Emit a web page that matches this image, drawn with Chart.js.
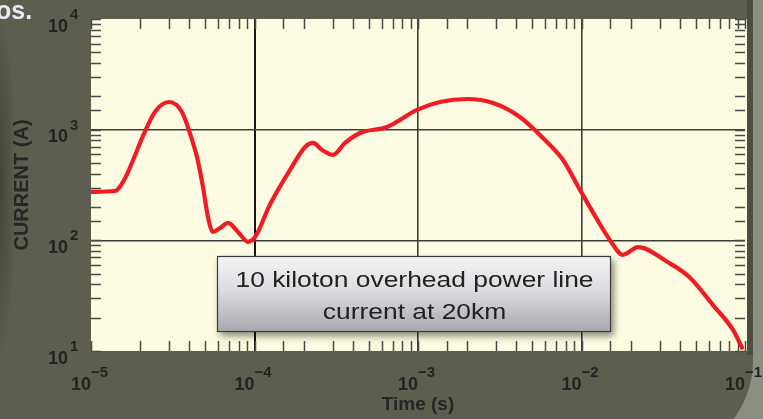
<!DOCTYPE html>
<html>
<head>
<meta charset="utf-8">
<script src="https://cdn.jsdelivr.net/npm/chart.js@4.4.0/dist/chart.umd.min.js"></script>
<style>
html,body{margin:0;padding:0;background:#5d5e50;overflow:hidden;}
#wrap{width:763px;height:419px;position:relative;}
</style>
</head>
<body>
<div id="wrap"><canvas id="c"></canvas></div>
<script>
// ---- data ----
const timeSeconds = [1.0e-5, 1.40e-5, 1.61e-5, 1.81e-5, 2.08e-5, 2.46e-5, 3.00e-5, 3.60e-5, 4.15e-5, 4.45e-5,
  4.84e-5, 5.19e-5, 5.57e-5, 6.15e-5, 6.89e-5, 7.93e-5, 9.12e-5, 1.02e-4, 1.24e-4, 1.65e-4,
  2.04e-4, 2.28e-4, 2.59e-4, 3.02e-4, 3.58e-4, 4.42e-4, 6.46e-4, 9.86e-4, 1.36e-3, 2.0e-3,
  2.88e-3, 4.20e-3, 5.98e-3, 7.71e-3, 9.8e-3, 1.18e-2, 1.49e-2, 1.79e-2, 2.22e-2, 3.34e-2,
  4.61e-2, 6.37e-2, 8.45e-2, 9.6e-2];
const currentAmps = [274, 279, 360, 532, 877, 1445, 1778, 1445, 807, 567,
  304, 163, 119, 129, 144, 119, 97, 110, 209, 433,
  698, 759, 656, 591, 759, 933, 1057, 1507, 1778, 1893,
  1742, 1303, 807, 532, 285, 177, 101, 74, 87, 64,
  46, 26, 15.5, 10.7];
const xDecades = [1e-5, 1e-4, 1e-3, 1e-2, 1e-1];
const xExponents = ['\u22125', '\u22124', '\u22123', '\u22122', '\u22121'];
const yDecades = [10, 100, 1000, 10000];
const yExponents = ['1', '2', '3', '4'];
const xTitle = 'Time (s)';
const yTitle = 'CURRENT (A)';
const noteLines = ['10 kiloton overhead power line', 'current at 20km'];
const cornerText = 'os.';

const FONT = '"Liberation Sans", Arial, Helvetica, sans-serif';
function isDecade(v) {
  if (!(v > 0)) return false;
  const l = Math.log10(v);
  return Math.abs(l - Math.round(l)) < 1e-6;
}

const backgroundPlugin = {
  id: 'bg',
  beforeDraw(chart) {
    const ctx = chart.ctx, a = chart.chartArea;
    const W = chart.width, H = chart.height;
    ctx.save();
    // light outer panel
    ctx.fillStyle = '#8d8e82';
    ctx.fillRect(0, 0, W, H);
    // dark rounded panel
    ctx.fillStyle = '#5d5e50';
    ctx.beginPath();
    const r = 100, R = 753, B = 460;
    ctx.moveTo(-20, -20);
    ctx.lineTo(R, -20);
    ctx.lineTo(R, B - r);
    ctx.arc(R - r, B - r, r, 0, Math.PI / 2);
    ctx.lineTo(-20, B);
    ctx.closePath();
    ctx.fill();
    // darker band right of plot
    ctx.fillStyle = '#4d4e42';
    ctx.fillRect(a.right + 2, 0, 6, 355);
    // soft left shadow
    ctx.save();
    ctx.translate(0, 185);
    ctx.scale(1, 11);
    const g = ctx.createRadialGradient(0, 0, 0, 0, 0, 16);
    g.addColorStop(0, 'rgba(35,35,28,0.45)');
    g.addColorStop(1, 'rgba(35,35,28,0)');
    ctx.fillStyle = g;
    ctx.fillRect(0, -16, 16, 32);
    ctx.restore();
    // plot area
    ctx.fillStyle = '#fdfbe1';
    ctx.fillRect(a.left, a.top, a.right - a.left + 2, a.bottom - a.top);
    // corner text
    ctx.fillStyle = '#e4ebf2';
    ctx.font = 'bold 25px ' + FONT;
    ctx.textAlign = 'left';
    ctx.textBaseline = 'alphabetic';
    ctx.fillText(cornerText, -4, 19);
    ctx.restore();
  }
};

const minorTickPlugin = {
  id: 'minorTicks',
  beforeDatasetsDraw(chart) {
    const ctx = chart.ctx, a = chart.chartArea;
    const xs = chart.scales.x, ys = chart.scales.y;
    const L = 10;
    ctx.save();
    ctx.strokeStyle = '#4a4a48';
    ctx.lineWidth = 1.5;
    ctx.beginPath();
    xs.ticks.forEach(t => {
      const px = Math.round(xs.getPixelForValue(t.value)) + 0.5;
      ctx.moveTo(px, a.top); ctx.lineTo(px, a.top + L);
      ctx.moveTo(px, a.bottom); ctx.lineTo(px, a.bottom - L);
    });
    ys.ticks.forEach(t => {
      const py = Math.round(ys.getPixelForValue(t.value)) + 0.5;
      ctx.moveTo(a.left, py); ctx.lineTo(a.left + L, py);
      ctx.moveTo(a.right, py); ctx.lineTo(a.right - L, py);
    });
    ctx.stroke();
    ctx.restore();
  }
};

const notePlugin = {
  id: 'note',
  afterDatasetsDraw(chart) {
    const ctx = chart.ctx;
    const x = 217, y = 256, w = 394, h = 76;
    ctx.save();
    ctx.shadowColor = 'rgba(0,0,0,0.45)';
    ctx.shadowBlur = 7;
    ctx.shadowOffsetX = 3;
    ctx.shadowOffsetY = 4;
    const g = ctx.createLinearGradient(0, y, 0, y + h);
    g.addColorStop(0, '#f5f5f7');
    g.addColorStop(0.45, '#dcdce0');
    g.addColorStop(1, '#a7a8af');
    ctx.fillStyle = g;
    ctx.fillRect(x, y, w, h);
    ctx.shadowColor = 'transparent';
    ctx.strokeStyle = '#3c3c3c';
    ctx.lineWidth = 1.2;
    ctx.strokeRect(x + 0.5, y + 0.5, w - 1, h - 1);
    ctx.fillStyle = '#222222';
    ctx.font = '22px ' + FONT;
    ctx.textAlign = 'center';
    ctx.textBaseline = 'alphabetic';
    const cx = x + w / 2 + 0.5;
    ctx.translate(cx, 0);
    ctx.scale(1.2, 1);
    ctx.fillText(noteLines[0], 0, 287);
    ctx.fillText(noteLines[1], 0, 319);
    ctx.restore();
  }
};

const labelPlugin = {
  id: 'decadeLabels',
  afterDraw(chart) {
    const ctx = chart.ctx;
    const xs = chart.scales.x, ys = chart.scales.y;
    ctx.save();
    ctx.fillStyle = '#232323';
    ctx.textBaseline = 'alphabetic';
    xDecades.forEach((v, i) => {
      const px = xs.getPixelForValue(v);
      ctx.font = 'bold 18px ' + FONT;
      ctx.textAlign = 'right';
      ctx.fillText('10', px, xs.top + 39);
      ctx.font = 'bold 15px ' + FONT;
      ctx.textAlign = 'left';
      ctx.fillText(xExponents[i], px, xs.top + 26);
    });
    yDecades.forEach((v, i) => {
      const py = ys.getPixelForValue(v);
      ctx.font = 'bold 18px ' + FONT;
      ctx.textAlign = 'right';
      ctx.fillText('10', ys.right - 23, py + 12.5);
      ctx.font = 'bold 15px ' + FONT;
      ctx.textAlign = 'left';
      ctx.fillText(yExponents[i], ys.right - 21, py);
    });
    ctx.restore();
  }
};

function gridColor(c, edges) {
  const v = c.tick && c.tick.value;
  if (!isDecade(v)) return 'rgba(0,0,0,0)';
  if (edges.some(e => Math.abs(Math.log10(e) - Math.log10(v)) < 1e-6)) return 'rgba(0,0,0,0)';
  if (Math.abs(Math.log10(v) + 4) < 1e-6) return '#161616';
  return '#3e3e3c';
}

new Chart(document.getElementById('c'), {
  type: 'line',
  data: {
    datasets: [{
      data: timeSeconds.map((t, i) => ({ x: t, y: currentAmps[i] })),
      borderColor: '#f01c24',
      borderWidth: 4.2,
      pointRadius: 0,
      fill: false,
      cubicInterpolationMode: 'monotone',
      borderCapStyle: 'round',
      borderJoinStyle: 'round'
    }]
  },
  options: {
    responsive: true,
    maintainAspectRatio: false,
    animation: false,
    devicePixelRatio: 1,
    layout: { padding: { top: 19, right: 18, left: 0, bottom: 0 } },
    plugins: { legend: { display: false }, tooltip: { enabled: false } },
    scales: {
      x: {
        type: 'logarithmic',
        min: 1e-5, max: 1e-1,
        afterFit: s => { s.height = 68; },
        ticks: { display: false },
        border: { display: false },
        grid: {
          drawTicks: false,
          color: c => gridColor(c, [1e-5, 1e-1]),
          lineWidth: c => (c.tick && Math.abs(Math.log10(c.tick.value) + 4) < 1e-6) ? 2 : 1.6
        },
        title: {
          display: true, text: xTitle, color: '#262626',
          font: { family: FONT, size: 19, weight: 'bold' },
          padding: { top: 0, bottom: 3 }
        }
      },
      y: {
        type: 'logarithmic',
        min: 10, max: 10000,
        afterFit: s => { s.width = 91; },
        ticks: { display: false },
        border: { display: false },
        grid: {
          drawTicks: false,
          color: c => gridColor(c, [10, 10000]),
          lineWidth: 1.6
        },
        title: {
          display: true, text: yTitle, color: '#262626',
          font: { family: FONT, size: 20, weight: 'bold' },
          padding: { top: 10, bottom: 0 }
        }
      }
    }
  },
  plugins: [backgroundPlugin, minorTickPlugin, notePlugin, labelPlugin]
});
</script>
</body>
</html>
